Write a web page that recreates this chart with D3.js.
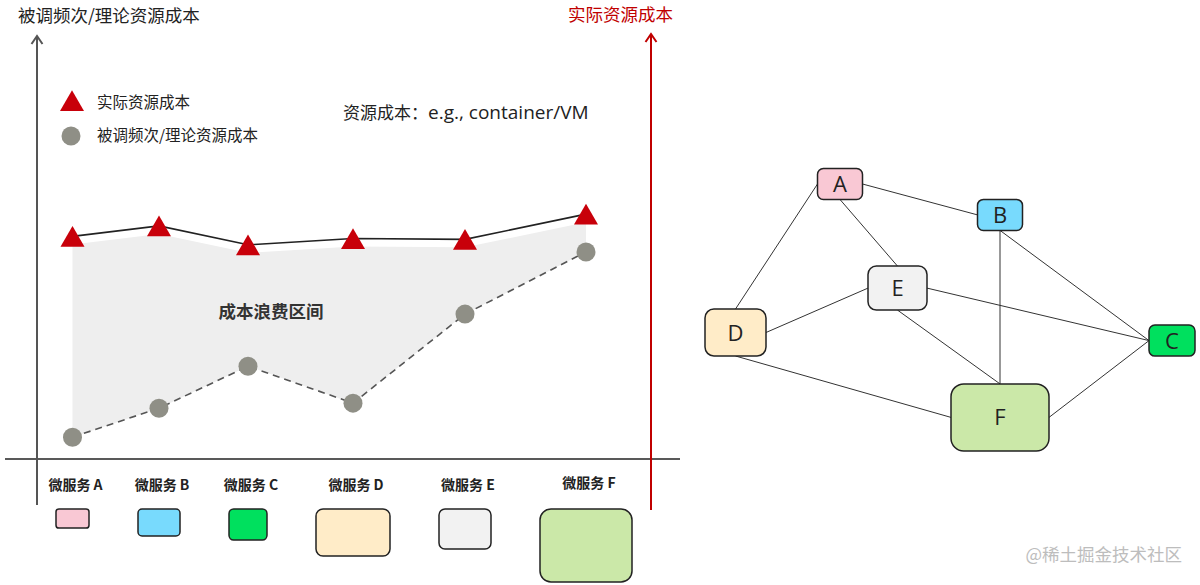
<!DOCTYPE html>
<html>
<head>
<meta charset="utf-8">
<script src="https://cdn.jsdelivr.net/npm/d3@7"></script>
<style>
  body { margin: 0; background: #fff; }
  svg { display: block; font-family: "Noto Sans CJK SC", "Noto Sans", sans-serif; }
</style>
</head>
<body>
<script>
// micro services and their costs
var services = ["A", "B", "C", "D", "E", "F"];
var actualCost = [53, 55.5, 51, 52.5, 52.3, 58.3];   // 实际资源成本
var theoryCost = [5.2, 12.1, 22.1, 13.3, 34.5, 49.3]; // 被调频次/理论资源成本
// footprint of each service (box width / height units)
var boxW = [33, 42, 38, 74, 52, 92];
var boxH = [19, 27, 31, 47, 40, 73];
var fills = ["#f9c8d4", "#78dafd", "#00e05e", "#ffecc8", "#f2f2f2", "#cbe8a8"];

// dependency graph
var nodeX = [28, 60, 94.4, 7.1, 39.5, 60];
var nodeY = [8, 18.3, 60.2, 57.5, 42.7, 85.8];
var nodeW = [45, 45, 46, 61, 59, 98];
var nodeH = [31, 31, 31, 47, 44, 67];
var edges = [
    ["A", "D", "left", "top"],
    ["A", "B", "right", "left"],
    ["A", "E", "bottom", "top"],
    ["B", "F", "bottom", "top"],
    ["B", "C", "bottom", "left"],
    ["D", "E", "right", "left"],
    ["E", "C", "right", "left"],
    ["E", "F", "bottom", "top"],
    ["D", "F", "bottom", "left"],
    ["F", "C", "right", "left"]
];

var svg = d3.select("body").append("svg")
    .attr("width", 1200).attr("height", 585);

var y = d3.scaleLinear().domain([0, 100]).range([459, 39]);

// lay the service boxes out one after another
var gap = 49, startX = 56;
var lefts = [], acc = startX;
boxW.forEach(function (w) { lefts.push(acc); acc += w + gap; });
var centers = lefts.map((l, i) => l + boxW[i] / 2);
var x = d3.scaleOrdinal().domain(services).range(centers);

var data = services.map((s, i) => ({ s: s, actual: actualCost[i], theory: theoryCost[i], i: i }));

// waste area
svg.append("path")
    .datum(data)
    .attr("fill", "#eeeeee")
    .attr("d", d3.area().x(d => x(d.s)).y0(d => y(d.theory)).y1(d => y(d.actual) + 8));

svg.append("text")
    .attr("x", 271).attr("y", 318)
    .attr("text-anchor", "middle")
    .attr("font-size", 17.5).attr("font-weight", "bold").attr("fill", "#333")
    .text("成本浪费区间");

// axes
svg.append("line").attr("x1", 5).attr("x2", 680).attr("y1", 459).attr("y2", 459)
    .attr("stroke", "#222").attr("stroke-width", 1.5);

function vAxis(ax, top, bottom, color) {
    svg.append("line").attr("x1", ax).attr("x2", ax).attr("y1", top + 1).attr("y2", bottom)
        .attr("stroke", color).attr("stroke-width", 2);
    svg.append("path")
        .attr("d", d3.line()([[ax - 5.5, top + 8], [ax, top], [ax + 5.5, top + 8]]))
        .attr("fill", "none").attr("stroke", color).attr("stroke-width", 2);
}
vAxis(37, 36, 505, "#555");
vAxis(651, 34, 510, "#c00000");

svg.append("text").attr("x", 18).attr("y", 22)
    .attr("font-size", 17.5).attr("fill", "#222")
    .text("被调频次/理论资源成本");
svg.append("text").attr("x", 568).attr("y", 21)
    .attr("font-size", 17.5).attr("fill", "#c00000")
    .text("实际资源成本");

// lines
svg.append("path").datum(data)
    .attr("fill", "none").attr("stroke", "#222").attr("stroke-width", 1.6)
    .attr("d", d3.line().x(d => x(d.s)).y(d => y(d.actual)));
svg.append("path").datum(data)
    .attr("fill", "none").attr("stroke", "#555").attr("stroke-width", 1.6)
    .attr("stroke-dasharray", "7,5")
    .attr("d", d3.line().x(d => x(d.s)).y(d => y(d.theory)));

var tri = d3.symbol(d3.symbolTriangle, 250);
svg.selectAll(".tri").data(data).enter().append("path")
    .attr("class", "tri")
    .attr("d", tri)
    .attr("transform", d => `translate(${x(d.s)},${y(d.actual) + 3.5})`)
    .attr("fill", "#c8000a");
svg.selectAll(".dot").data(data).enter().append("circle")
    .attr("class", "dot")
    .attr("cx", d => x(d.s)).attr("cy", d => y(d.theory)).attr("r", 9.5)
    .attr("fill", "#8f8f86");

// legend
svg.append("path").attr("d", tri).attr("transform", "translate(72,104)").attr("fill", "#c8000a");
svg.append("text").attr("x", 97).attr("y", 108).attr("font-size", 15.5).attr("fill", "#222").text("实际资源成本");
svg.append("circle").attr("cx", 71).attr("cy", 136).attr("r", 9.5).attr("fill", "#8f8f86");
svg.append("text").attr("x", 97).attr("y", 141).attr("font-size", 15.5).attr("fill", "#222").text("被调频次/理论资源成本");

var note = svg.append("text").attr("x", 343).attr("y", 119)
    .attr("font-size", 17).attr("fill", "#222")
    .attr("font-family", "'Open Sans', 'Noto Sans CJK SC', sans-serif");
note.append("tspan").text("资源成本：");
note.append("tspan").attr("font-size", 19).text("e.g., container/VM");

// service boxes + labels
svg.selectAll(".svc").data(data).enter().append("text")
    .attr("class", "svc")
    .attr("x", d => x(d.s) + 3)
    .attr("y", d => d.s == "F" ? 488 : 490)
    .attr("text-anchor", "middle")
    .attr("font-size", 14).attr("font-weight", "bold").attr("fill", "#222")
    .text(d => "微服务 " + d.s);

svg.selectAll(".box").data(data).enter().append("rect")
    .attr("class", "box")
    .attr("x", d => lefts[d.i]).attr("y", 509)
    .attr("width", d => boxW[d.i]).attr("height", d => boxH[d.i])
    .attr("rx", d => Math.min(boxW[d.i], boxH[d.i]) * 0.15)
    .attr("fill", d => fills[d.i])
    .attr("stroke", "#222").attr("stroke-width", 1.5);

// graph
var gx = d3.scaleLinear().domain([0, 100]).range([700, 1200]);
var gy = d3.scaleLinear().domain([0, 100]).range([160, 460]);
var nodes = services.map((s, i) => ({ id: s, cx: gx(nodeX[i]), cy: gy(nodeY[i]), w: nodeW[i], h: nodeH[i], fill: fills[i] }));
var byId = {};
nodes.forEach(n => byId[n.id] = n);

function anchor(n, side) {
    if (side == "left") return [n.cx - n.w / 2, n.cy];
    if (side == "right") return [n.cx + n.w / 2, n.cy];
    if (side == "top") return [n.cx, n.cy - n.h / 2];
    return [n.cx, n.cy + n.h / 2];
}

svg.selectAll(".edge").data(edges).enter().append("path")
    .attr("class", "edge")
    .attr("d", e => d3.line()([anchor(byId[e[0]], e[2]), anchor(byId[e[1]], e[3])]))
    .attr("stroke", "#333").attr("stroke-width", 1).attr("fill", "none");

var g = svg.selectAll(".node").data(nodes).enter().append("g").attr("class", "node");
g.append("rect")
    .attr("x", d => d.cx - d.w / 2).attr("y", d => d.cy - d.h / 2)
    .attr("width", d => d.w).attr("height", d => d.h)
    .attr("rx", d => Math.min(d.w, d.h) * 0.19)
    .attr("fill", d => d.fill)
    .attr("stroke", "#222").attr("stroke-width", 1.5);
g.append("text")
    .attr("x", d => d.cx).attr("y", d => d.cy + 8)
    .attr("text-anchor", "middle")
    .attr("font-family", "'Open Sans', sans-serif")
    .attr("font-size", 22).attr("fill", "#222")
    .text(d => d.id);

// watermark
svg.append("text").attr("x", 1182).attr("y", 561)
    .attr("text-anchor", "end")
    .attr("font-size", 17.5).attr("fill", "#bdbdbd")
    .text("@稀土掘金技术社区");
</script>
</body>
</html>
